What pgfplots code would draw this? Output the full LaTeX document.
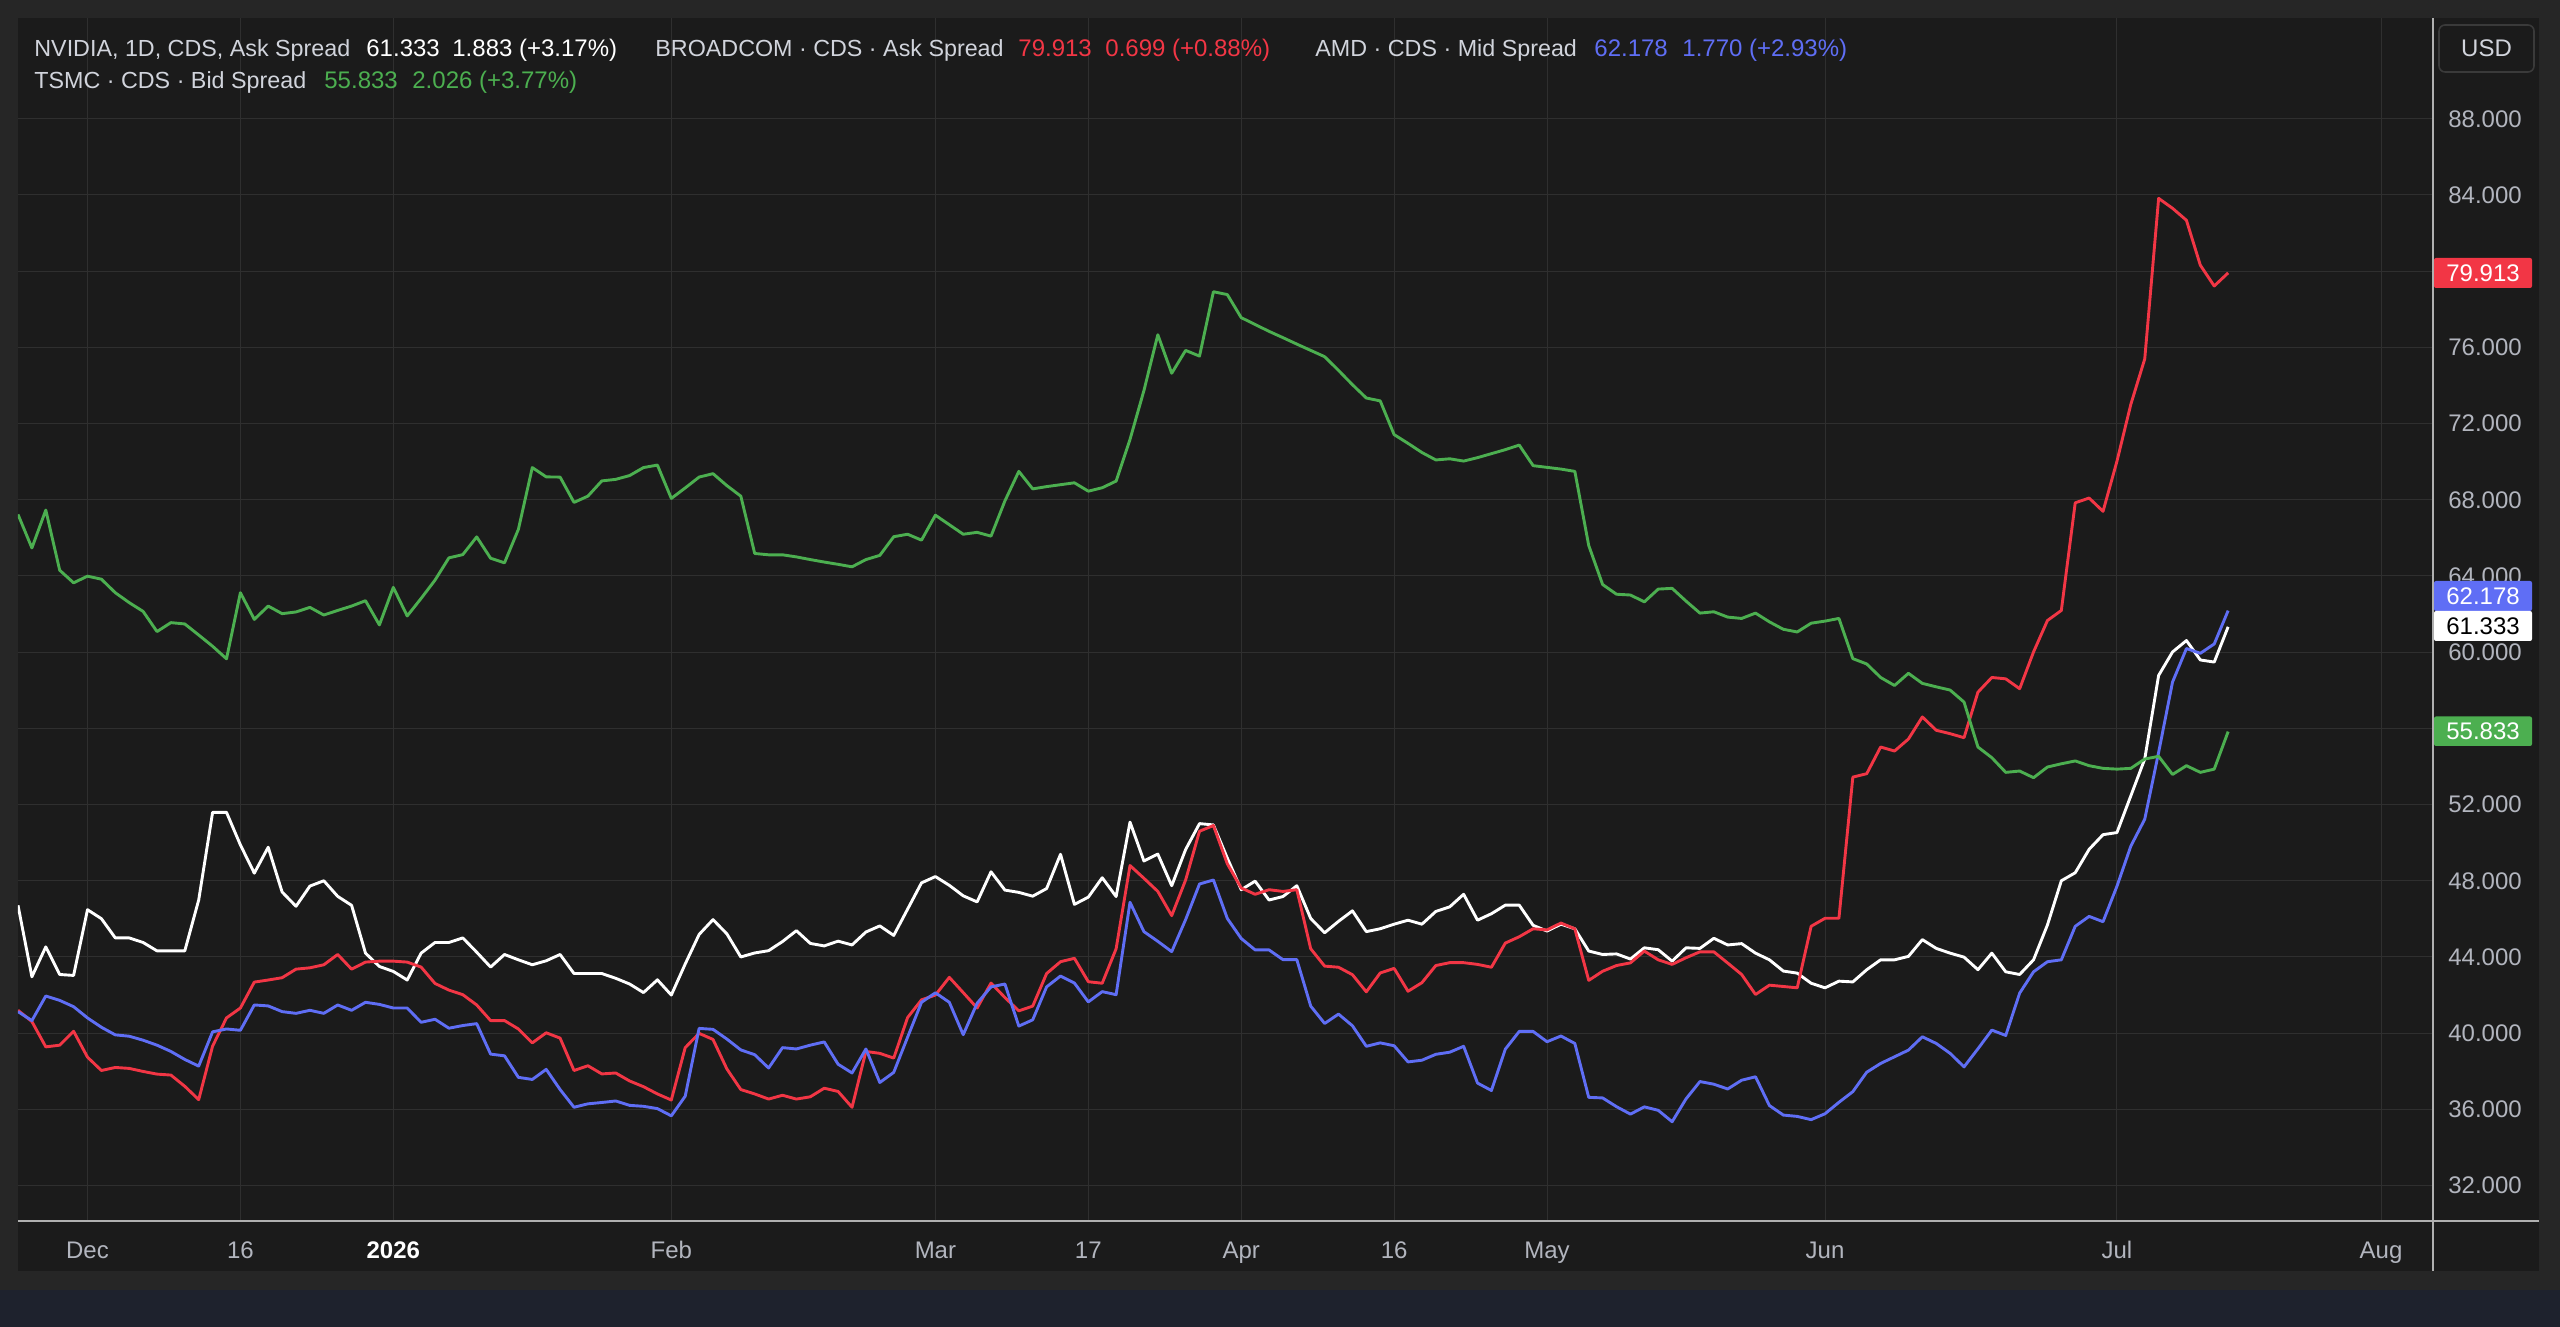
\documentclass[border=0pt]{standalone}
\usepackage{pgfplots}
\pgfplotsset{compat=1.18}
\usepackage{pgfplotstable}
\usepackage{fontspec}
\setmainfont{Liberation Sans}
\definecolor{outer}{HTML}{262626}
\definecolor{panel}{HTML}{1B1B1B}
\definecolor{gridc}{HTML}{2F2F2F}
\definecolor{botband}{HTML}{1E222D}
\definecolor{txt}{HTML}{D1D4DC}
\definecolor{ticktxt}{HTML}{B2B5BE}
\definecolor{nred}{HTML}{F23645}
\definecolor{nblue}{HTML}{5F6EF5}
\definecolor{ngreen}{HTML}{4CAF50}
\definecolor{sep}{HTML}{B0B0B0}
\definecolor{usdb}{HTML}{3A3A3A}

\pgfplotstableread{
i w r b g
0 46.71 41.20 41.13 67.23
1 42.96 40.61 40.66 65.47
2 44.53 39.28 41.95 67.46
3 43.08 39.37 41.72 64.30
4 43.03 40.10 41.39 63.64
5 46.48 38.74 40.80 63.99
6 46.01 38.04 40.31 63.83
7 45.00 38.20 39.91 63.12
8 45.00 38.15 39.84 62.60
9 44.76 37.99 39.63 62.14
10 44.32 37.85 39.37 61.08
11 44.32 37.80 39.04 61.55
12 44.32 37.21 38.62 61.48
13 46.99 36.51 38.27 60.90
14 51.59 39.32 40.07 60.31
15 51.59 40.80 40.22 59.65
16 49.88 41.32 40.15 63.12
17 48.40 42.68 41.48 61.72
18 49.76 42.79 41.43 62.42
19 47.41 42.91 41.13 62.02
20 46.66 43.36 41.04 62.11
21 47.72 43.43 41.20 62.35
22 48.00 43.59 41.04 61.95
23 47.18 44.13 41.48 62.19
24 46.71 43.36 41.20 62.42
25 44.20 43.73 41.62 62.70
26 43.50 43.78 41.51 61.43
27 43.24 43.78 41.32 63.40
28 42.79 43.73 41.32 61.90
29 44.20 43.47 40.57 62.82
30 44.76 42.61 40.73 63.78
31 44.76 42.26 40.26 64.95
32 45.00 42.02 40.40 65.12
33 44.25 41.48 40.50 66.05
34 43.47 40.66 38.90 64.93
35 44.13 40.66 38.81 64.69
36 43.85 40.22 37.68 66.45
37 43.59 39.49 37.57 69.69
38 43.80 40.02 38.10 69.20
39 44.13 39.74 37.04 69.19
40 43.13 38.04 36.11 67.86
41 43.13 38.29 36.29 68.19
42 43.13 37.86 36.36 68.99
43 42.88 37.91 36.44 69.07
44 42.58 37.49 36.21 69.27
45 42.13 37.19 36.16 69.69
46 42.80 36.81 36.04 69.82
47 42.00 36.49 35.66 68.07
48 43.63 39.24 36.69 68.62
49 45.18 39.99 40.25 69.19
50 45.96 39.67 40.20 69.37
51 45.21 38.12 39.69 68.74
52 44.00 37.04 39.12 68.19
53 44.21 36.81 38.87 65.18
54 44.33 36.54 38.17 65.11
55 44.81 36.74 39.24 65.11
56 45.38 36.54 39.17 65.00
57 44.71 36.66 39.37 64.86
58 44.58 37.11 39.54 64.73
59 44.83 36.94 38.37 64.61
60 44.63 36.11 37.91 64.48
61 45.31 39.04 39.17 64.86
62 45.63 38.94 37.41 65.08
63 45.13 38.69 37.94 66.06
64 46.51 40.82 39.79 66.19
65 47.89 41.75 41.62 65.88
66 48.22 42.00 42.12 67.19
67 47.76 42.93 41.62 66.69
68 47.21 42.13 39.92 66.19
69 46.89 41.32 41.57 66.29
70 48.47 42.63 42.43 66.09
71 47.51 41.87 42.58 67.94
72 47.39 41.17 40.37 69.49
73 47.19 41.42 40.70 68.57
74 47.59 43.13 42.43 68.69
75 49.39 43.75 43.00 68.79
76 46.76 43.93 42.63 68.89
77 47.14 42.70 41.64 68.45
78 48.16 42.62 42.18 68.63
79 47.17 44.43 42.02 68.98
80 51.08 48.80 46.87 71.17
81 49.04 48.13 45.33 73.73
82 49.40 47.44 44.82 76.66
83 47.74 46.17 44.28 74.64
84 49.64 48.04 45.96 75.84
85 51.00 50.60 47.83 75.54
86 50.93 50.90 48.04 78.92
87 49.19 48.89 46.02 78.77
88 47.53 47.62 44.97 77.56
89 47.98 47.29 44.37 77.20
90 46.99 47.53 44.37 76.84
91 47.17 47.44 43.86 76.51
92 47.74 47.53 43.86 76.17
93 46.02 44.43 41.42 75.84
94 45.27 43.52 40.51 75.51
95 45.87 43.46 41.00 74.79
96 46.42 43.07 40.39 74.04
97 45.33 42.17 39.31 73.34
98 45.48 43.16 39.49 73.19
99 45.72 43.40 39.34 71.42
100 45.93 42.20 38.49 70.96
101 45.72 42.65 38.58 70.48
102 46.39 43.55 38.89 70.09
103 46.63 43.70 39.00 70.15
104 47.29 43.70 39.31 70.03
105 45.93 43.61 37.38 70.21
106 46.27 43.46 36.99 70.42
107 46.72 44.73 39.16 70.63
108 46.72 45.06 40.09 70.87
109 45.66 45.48 40.09 69.79
110 45.36 45.42 39.55 69.70
111 45.72 45.78 39.85 69.61
112 45.48 45.48 39.46 69.49
113 44.31 42.77 36.63 65.60
114 44.13 43.25 36.60 63.55
115 44.16 43.55 36.14 63.04
116 43.89 43.69 35.75 63.00
117 44.48 44.31 36.13 62.64
118 44.38 43.85 35.95 63.31
119 43.78 43.61 35.35 63.35
120 44.48 43.96 36.55 62.68
121 44.45 44.27 37.46 62.05
122 44.98 44.27 37.32 62.12
123 44.63 43.68 37.07 61.84
124 44.70 43.08 37.53 61.77
125 44.20 42.03 37.71 62.05
126 43.85 42.52 36.20 61.59
127 43.26 42.45 35.70 61.20
128 43.15 42.38 35.63 61.06
129 42.62 45.61 35.46 61.52
130 42.38 46.03 35.77 61.63
131 42.73 46.03 36.37 61.77
132 42.69 53.44 36.93 59.66
133 43.33 53.62 37.95 59.38
134 43.85 55.02 38.41 58.67
135 43.85 54.81 38.76 58.25
136 44.03 55.44 39.11 58.89
137 44.91 56.60 39.81 58.36
138 44.45 55.90 39.46 58.18
139 44.20 55.72 38.94 58.01
140 43.99 55.51 38.23 57.38
141 43.33 57.90 39.18 55.02
142 44.20 58.67 40.16 54.46
143 43.22 58.60 39.88 53.69
144 43.08 58.08 42.10 53.76
145 43.85 60.01 43.22 53.41
146 45.68 61.66 43.75 53.97
147 48.00 62.19 43.85 54.14
148 48.42 67.84 45.61 54.29
149 49.65 68.09 46.13 54.04
150 50.42 67.39 45.85 53.90
151 50.53 70.02 47.71 53.86
152 52.46 73.01 49.82 53.90
153 54.39 75.39 51.23 54.39
154 58.78 83.82 54.74 54.53
155 60.01 83.30 58.43 53.58
156 60.61 82.67 60.19 54.04
157 59.59 80.31 59.94 53.69
158 59.48 79.22 60.43 53.86
159 61.33 79.91 62.18 55.83
}\datatab

\newcommand{\tf}{\fontsize{12}{14}\selectfont}
\newcommand{\lf}{\fontsize{11.65}{14}\selectfont}

\begin{document}
\begin{tikzpicture}[x=1pt,y=1pt]
\useasboundingbox (0,0) rectangle (1280,663.5);
\fill[outer] (0,0) rectangle (1280,663.5);
\fill[botband] (0,0) rectangle (1280,18.5);
\fill[panel] (9,28) rectangle (1269.5,654.5);
\begin{axis}[at={(9pt,53pt)}, anchor=south west, scale only axis,
  width=1207.5pt, height=601.5pt,
  xmin=0, xmax=173.74, ymin=30.14, ymax=93.29,
  axis line style={draw=none},
  xtick={5,16,27,47,66,77,88,99,110,130,151,170},
  xticklabels={Dec,16,{\bfseries\color{white}2026},Feb,Mar,17,Apr,16,May,Jun,Jul,Aug},
  ytick={32,36,...,88},
  yticklabel pos=right,
  grid=major, grid style={gridc, line width=0.5pt},
  major tick length=0pt,
  tick label style={font=\tf, text=ticktxt, inner sep=0pt},
  xticklabel style={anchor=base, yshift=-18.6pt},
  yticklabel style={anchor=center, xshift=26pt, /pgf/number format/.cd, fixed, fixed zerofill, precision=3, assume math mode=true},
]
\addplot[white, line width=1.45pt, mark=none, line join=round] table[x=i,y=w]{\datatab};
\addplot[nred, line width=1.45pt, mark=none, line join=round] table[x=i,y=r]{\datatab};
\addplot[nblue, line width=1.45pt, mark=none, line join=round] table[x=i,y=b]{\datatab};
\addplot[ngreen, line width=1.45pt, mark=none, line join=round] table[x=i,y=g]{\datatab};
\end{axis}
% separators
\draw[sep, line width=1pt] (1216.5,28) -- (1216.5,654.5);
\draw[sep, line width=1.2pt] (9,53) -- (1269.5,53);
% price boxes
\fill[nred, rounded corners=1pt] (1217,519.5) rectangle (1266,534.5);
\node[white, font=\tf, inner sep=0pt] at (1241.5,527) {79.913};
\fill[nblue, rounded corners=1pt] (1217,358) rectangle (1266,373);
\node[white, font=\tf, inner sep=0pt] at (1241.5,365.5) {62.178};
\fill[white, rounded corners=1pt] (1217,343) rectangle (1266,358);
\node[black, font=\tf, inner sep=0pt] at (1241.5,350.5) {61.333};
\fill[ngreen, rounded corners=1pt] (1217,290.5) rectangle (1266,305.25);
\node[white, font=\tf, inner sep=0pt] at (1241.5,297.9) {55.833};
% USD button
\draw[draw=usdb, fill=panel, rounded corners=3pt, line width=0.8pt] (1219.5,627.5) rectangle (1267,651);
\node[txt, font=\tf, inner sep=0pt] at (1243.25,639.25) {USD};
% header
\begin{scope}[every node/.style={anchor=base west, inner sep=0pt, font=\tf}]
\node[txt, font=\lf] at (17,635.2) {NVIDIA, 1D, CDS, Ask Spread};
\node[white] at (183,635.2) {61.333};
\node[white] at (226,635.2) {1.883 (+3.17\%)};
\node[txt, font=\lf] at (327.5,635.2) {BROADCOM · CDS · Ask Spread};
\node[nred] at (509,635.2) {79.913};
\node[nred] at (552.5,635.2) {0.699 (+0.88\%)};
\node[txt, font=\lf] at (657.5,635.2) {AMD · CDS · Mid Spread};
\node[nblue] at (797,635.2) {62.178};
\node[nblue] at (841,635.2) {1.770 (+2.93\%)};
\node[txt, font=\lf] at (17,619) {TSMC · CDS · Bid Spread};
\node[ngreen] at (162,619) {55.833};
\node[ngreen] at (206,619) {2.026 (+3.77\%)};
\end{scope}
\end{tikzpicture}
\end{document}
